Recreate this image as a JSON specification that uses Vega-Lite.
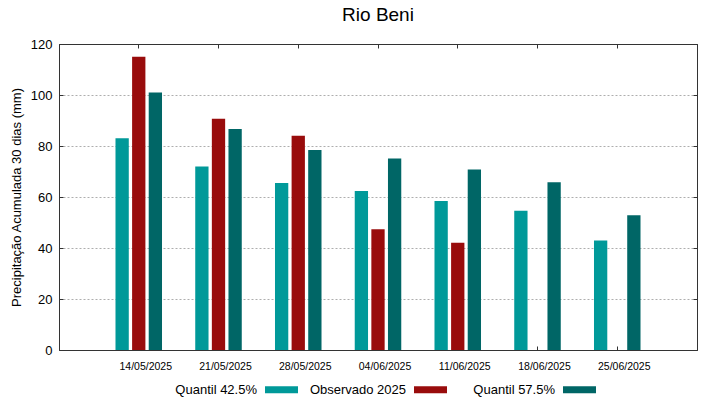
{
  "$schema": "https://vega.github.io/schema/vega-lite/v6.json",
  "autosize": {"type": "none"},
  "width": 638,
  "height": 306,
  "padding": {"left": 59, "top": 44, "right": 22, "bottom": 49},
  "background": "white",
  "title": {"text": "Rio Beni", "font": "Liberation Sans", "fontSize": 19, "fontWeight": "normal", "color": "#000", "anchor": "middle", "offset": 13},
  "config": {
    "view": {"stroke": "#333", "strokeWidth": 1},
    "axis": {"labelFont": "Liberation Sans", "titleFont": "Liberation Sans", "labelColor": "#000", "titleColor": "#000", "domainColor": "#333", "tickColor": "#333", "domainWidth": 1}
  },
  "data": {"values": [
    {"date": "14/05/2025", "serie": "Quantil 42.5%", "value": 83},
    {"date": "14/05/2025", "serie": "Observado 2025", "value": 115},
    {"date": "14/05/2025", "serie": "Quantil 57.5%", "value": 101},
    {"date": "21/05/2025", "serie": "Quantil 42.5%", "value": 72},
    {"date": "21/05/2025", "serie": "Observado 2025", "value": 90.7},
    {"date": "21/05/2025", "serie": "Quantil 57.5%", "value": 86.7},
    {"date": "28/05/2025", "serie": "Quantil 42.5%", "value": 65.5},
    {"date": "28/05/2025", "serie": "Observado 2025", "value": 84},
    {"date": "28/05/2025", "serie": "Quantil 57.5%", "value": 78.4},
    {"date": "04/06/2025", "serie": "Quantil 42.5%", "value": 62.4},
    {"date": "04/06/2025", "serie": "Observado 2025", "value": 47.4},
    {"date": "04/06/2025", "serie": "Quantil 57.5%", "value": 75.1},
    {"date": "11/06/2025", "serie": "Quantil 42.5%", "value": 58.4},
    {"date": "11/06/2025", "serie": "Observado 2025", "value": 42.1},
    {"date": "11/06/2025", "serie": "Quantil 57.5%", "value": 70.8},
    {"date": "18/06/2025", "serie": "Quantil 42.5%", "value": 54.6},
    {"date": "18/06/2025", "serie": "Quantil 57.5%", "value": 65.8},
    {"date": "25/06/2025", "serie": "Quantil 42.5%", "value": 42.9},
    {"date": "25/06/2025", "serie": "Quantil 57.5%", "value": 52.8}
  ]},
  "resolve": {"axis": {"x": "independent", "y": "independent"}, "scale": {"x": "shared", "y": "shared"}},
  "layer": [
    {
      "mark": {"type": "bar", "opacity": 0},
      "encoding": {
        "x": {"field": "date", "type": "ordinal", "sort": null,
              "scale": {"type": "band", "paddingInner": 0, "paddingOuter": 0.5},
              "axis": {"orient": "top", "labels": false, "title": null, "tickSize": -4, "grid": false, "domain": true}},
        "y": {"field": "value", "type": "quantitative", "stack": null,
              "scale": {"domain": [0, 120], "nice": false},
              "axis": {"orient": "right", "labels": false, "title": null, "tickSize": -4, "grid": false, "values": [0, 20, 40, 60, 80, 100, 120]}}
      }
    },
    {
      "mark": {"type": "bar", "opacity": 1},
      "encoding": {
        "x": {"field": "date", "type": "ordinal", "sort": null,
              "scale": {"type": "band", "paddingInner": 0, "paddingOuter": 0.5},
              "axis": {"orient": "bottom", "title": null, "labelAngle": 0, "labelFontSize": 10.5, "labelOffset": 7, "tickSize": -4, "labelPadding": 15, "grid": false}},
        "xOffset": {"field": "serie", "type": "nominal", "sort": ["Quantil 42.5%", "Observado 2025", "Quantil 57.5%"],
                    "scale": {"domain": ["Quantil 42.5%", "Observado 2025", "Quantil 57.5%"], "paddingInner": 0.2, "paddingOuter": 1.092}},
        "y": {"field": "value", "type": "quantitative", "stack": null,
              "scale": {"domain": [0, 120], "nice": false},
              "axis": {"orient": "left", "values": [0, 20, 40, 60, 80, 100, 120], "grid": true, "gridDash": [2, 2], "gridColor": "#999", "gridWidth": 0.8, "tickSize": -4, "labelFontSize": 13, "labelPadding": 11, "title": "Precipitação Acumulada 30 dias (mm)", "titleFontSize": 13, "titleFontWeight": "normal", "titlePadding": 7}},
        "color": {"field": "serie", "type": "nominal",
                  "scale": {"domain": ["Quantil 42.5%", "Observado 2025", "Quantil 57.5%"], "range": ["#009999", "#990c0c", "#006666"]},
                  "legend": {"title": null, "orient": "none", "direction": "horizontal", "legendX": 206, "legendY": 329,
                             "symbolType": "M-8,0M-1,-0.212L1,-0.212L1,0.212L-1,0.212Z", "symbolSize": 1089, "symbolStrokeWidth": 0, "symbolOpacity": 1,
                             "labelAlign": "right", "labelOffset": -41, "labelFont": "Liberation Sans", "labelFontSize": 13, "labelColor": "#000", "labelLimit": 200, "columnPadding": 0}}
      }
    }
  ]
}
